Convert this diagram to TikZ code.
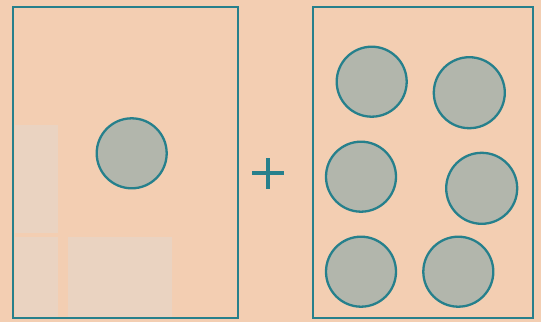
\documentclass[tikz,border=0pt]{standalone}
\definecolor{bgpeach}{RGB}{243,206,178}
\definecolor{paleblock}{RGB}{234,211,193}
\definecolor{teal}{RGB}{38,128,140}
\definecolor{dotfill}{RGB}{178,182,172}
\begin{document}
\begin{tikzpicture}[x=1pt,y=-1pt,
  panel/.style={draw=teal,line width=1.8pt},
  disc/.style={circle,draw=teal,line width=2.3pt,fill=dotfill,minimum size=70pt,inner sep=0pt},
  plusbar/.style={draw=teal,line width=4pt}]
\fill[bgpeach] (0,0) rectangle (541,322);
\useasboundingbox (0,0) rectangle (541,322);
% faint pale blocks
\fill[paleblock] (15,125) rectangle (58,233);
\fill[paleblock] (15,237) rectangle (58,318);
\fill[paleblock] (68,237) rectangle (172,318);
% panels
\node[panel,minimum width=225pt,minimum height=311pt,inner sep=0pt] (L) at (125.5,162.5) {};
\node[panel,minimum width=220pt,minimum height=311pt,inner sep=0pt] (R) at (423,162.5) {};
% left disc
\node[disc] (c0) at (131.7,153.3) {};
% plus
\coordinate (p) at (268.3,173.3);
\draw[plusbar] ([xshift=-16pt]p) -- ([xshift=16pt]p);
\draw[plusbar] ([yshift=-15.5pt]p) -- ([yshift=15.5pt]p);
% right discs
\node[disc] (c1) at (371.7,81.7) {};
\node[disc,minimum size=71pt] (c2) at (469.3,92.7) {};
\node[disc] (c3) at (361,176.7) {};
\node[disc,minimum size=71pt] (c4) at (481.7,188.3) {};
\node[disc] (c5) at (361,271.7) {};
\node[disc] (c6) at (458.3,271.7) {};
\end{tikzpicture}
\end{document}
